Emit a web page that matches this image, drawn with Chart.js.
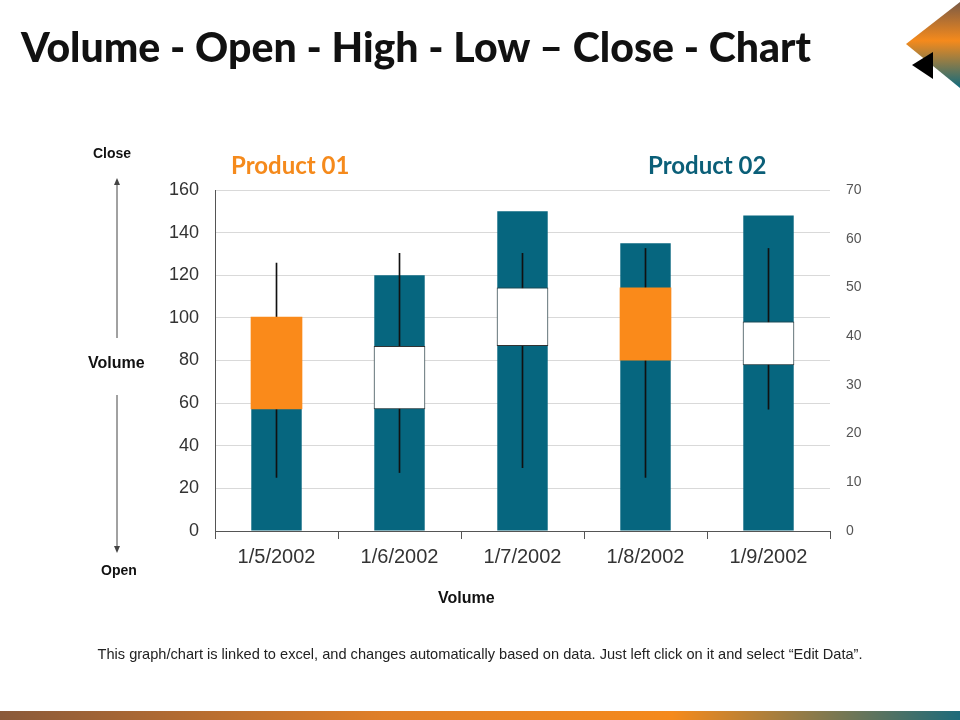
<!DOCTYPE html>
<html>
<head>
<meta charset="utf-8">
<script src="https://cdn.jsdelivr.net/npm/chart.js@4.4.1/dist/chart.umd.min.js"></script>
<style>
  body { margin: 0; width: 960px; height: 720px; background: #fff; position: relative; overflow: hidden; font-family: "Liberation Sans", Arial, sans-serif; }
  #wrap { position: absolute; left: 0; top: 0; width: 960px; height: 720px; }
  .t { position: absolute; white-space: nowrap; }
  #title { left: 21px; top: 22px; font-family: "Lato", "DejaVu Sans", sans-serif; font-weight: 900; font-size: 41px; color: #111; }
  .prod { font-family: "Lato", sans-serif; font-weight: 700; font-size: 24px; top: 150px; }
  .side { font-family: "Liberation Sans", Arial, sans-serif; font-weight: bold; font-size: 14px; color: #111; }
  #note { left: 0; width: 960px; text-align: center; top: 646px; font-size: 14.6px; color: #222; }
  #band { position: absolute; left: 0; top: 711px; width: 960px; height: 9px; background: linear-gradient(to right, #8a5a3a, #e07f28 40%, #f58a1c 70%, #1d6a7a); }
</style>
</head>
<body>
<div id="wrap"><canvas id="vohlc" width="960" height="720"></canvas></div>
<div class="t" id="title">Volume - Open - High - Low – Close - Chart</div>
<div class="t prod" style="left:231px;color:#f58a1c;">Product 01</div>
<div class="t prod" style="left:648px;color:#0b5f78;">Product 02</div>
<div class="t side" style="left:93px;top:145px;">Close</div>
<div class="t side" style="left:88px;top:354px;font-size:16px;">Volume</div>
<div class="t side" style="left:101px;top:562px;">Open</div>
<div class="t side" style="left:438px;top:589px;font-size:16px;">Volume</div>
<div class="t" id="note">This graph/chart is linked to excel, and changes automatically based on data. Just left click on it and select “Edit Data”.</div>
<div id="band"></div>
<svg style="position:absolute;left:900px;top:0;" width="60" height="95">
  <defs>
    <linearGradient id="dg" x1="0" y1="0" x2="0" y2="1">
      <stop offset="0" stop-color="#7a5a45"/>
      <stop offset="0.45" stop-color="#f58a1c"/>
      <stop offset="1" stop-color="#0f6a7e"/>
    </linearGradient>
  </defs>
  <polygon points="60,2 6,44 60,88" fill="url(#dg)"/>
  <polygon points="33,52 12,65 33,79" fill="#000"/>
</svg>
<svg style="position:absolute;left:108px;top:170px;" width="20" height="390">
  <line x1="9" y1="168" x2="9" y2="12" stroke="#444" stroke-width="1"/>
  <polygon points="9,8 6,15 12,15" fill="#444"/>
  <line x1="9" y1="225" x2="9" y2="378" stroke="#444" stroke-width="1"/>
  <polygon points="9,383 6,376 12,376" fill="#444"/>
</svg>
<script>
var dates = ['1/5/2002','1/6/2002','1/7/2002','1/8/2002','1/9/2002'];
var volume = [100, 120, 150, 135, 148];
var open = [44, 25, 38, 50, 34];
var high = [55, 57, 57, 58, 58];
var low = [11, 12, 13, 11, 25];
var close = [25, 38, 50, 35, 43];
var leftTicks = [0, 20, 40, 60, 80, 100, 120, 140, 160];
var rightTicks = [0, 10, 20, 30, 40, 50, 60, 70];

var teal = '#06667f';
var orange = '#fa8a1a';

var bodies = [];
var wicks = [];
var bodyColors = [];
var bodyBorders = [];
var ind = 0;
while(ind < dates.length){
    bodies.push([Math.min(open[ind], close[ind]), Math.max(open[ind], close[ind])]);
    wicks.push([low[ind], high[ind]]);
    if(close[ind] >= open[ind]){
        bodyColors.push('#ffffff');
        bodyBorders.push(1);
    } else {
        bodyColors.push(orange);
        bodyBorders.push(0);
    }
    ind++;
}

var font = '"Liberation Sans", Arial, sans-serif';

var chart = new Chart(document.getElementById('vohlc').getContext('2d'), {
    type: 'bar',
    data: {
        labels: dates,
        datasets: [{
            label: 'Body',
            data: bodies,
            yAxisID: 'y1',
            backgroundColor: bodyColors,
            borderColor: '#333',
            borderWidth: bodyBorders,
            borderSkipped: false,
            grouped: false,
            barPercentage: 0.42,
            categoryPercentage: 1,
            order: 1
        }, {
            label: 'High-Low',
            data: wicks,
            yAxisID: 'y1',
            backgroundColor: '#111',
            barThickness: 1,
            grouped: false,
            order: 2
        }, {
            label: 'Volume',
            data: volume,
            yAxisID: 'y',
            backgroundColor: teal,
            grouped: false,
            barPercentage: 0.41,
            categoryPercentage: 1,
            order: 3
        }]
    },
    options: {
        responsive: false,
        animation: false,
        devicePixelRatio: 1,
        layout: {padding: {left: 160, right: 90, top: 190, bottom: 135}},
        plugins: {legend: {display: false}, tooltip: {enabled: false}},
        scales: {
            x: {
                grid: {drawOnChartArea: false, drawTicks: true, tickLength: 8, color: '#555', offset: true},
                border: {display: true, color: '#555'},
                ticks: {color: '#333', font: {family: font, size: 20}, padding: 6},
                afterFit: function(s){ s.height = 54; }
            },
            y: {
                position: 'left',
                min: 0, max: 160,
                afterBuildTicks: function(s){ s.ticks = leftTicks.map(function(v){ return {value: v}; }); },
                grid: {color: '#d9d9d9', drawTicks: false},
                border: {display: true, color: '#555'},
                ticks: {color: '#333', font: {family: font, size: 18}, padding: 16},
                afterFit: function(s){ s.width = 55; }
            },
            y1: {
                position: 'right',
                min: 0, max: 70,
                afterBuildTicks: function(s){ s.ticks = rightTicks.map(function(v){ return {value: v}; }); },
                grid: {drawOnChartArea: false, drawTicks: false},
                border: {display: false},
                ticks: {color: '#555', font: {family: font, size: 14}, padding: 16},
                afterFit: function(s){ s.width = 40; }
            }
        }
    }
});
</script>
</body>
</html>
